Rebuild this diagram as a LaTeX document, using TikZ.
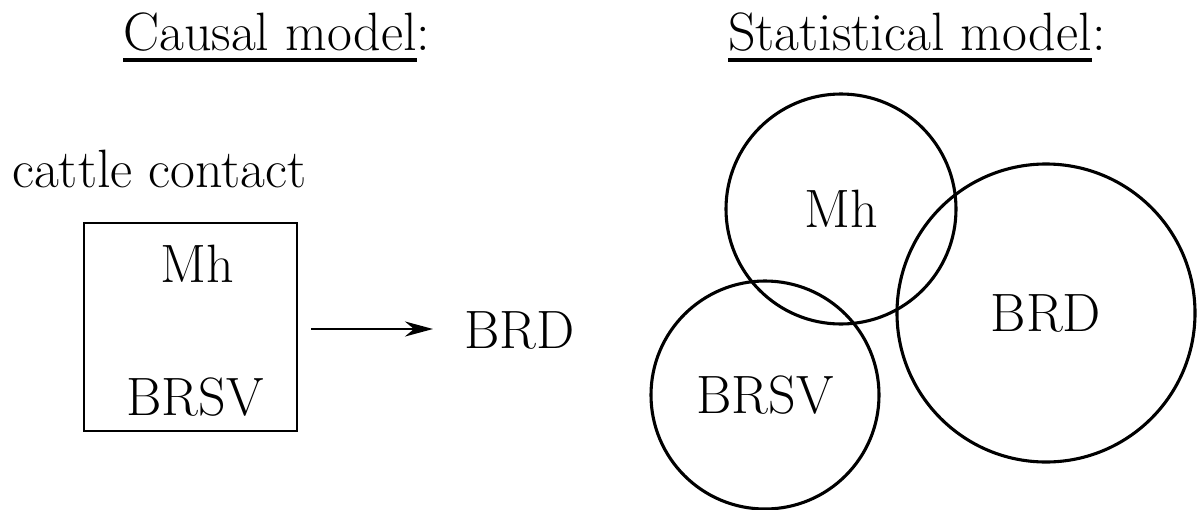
\documentclass[tikz,border=0pt]{standalone}
\usetikzlibrary{arrows.meta}
\begin{document}
\begin{tikzpicture}[x=1pt,y=-1pt,
  font=\fontsize{54}{60}\selectfont,
  txt/.style={inner sep=0pt,anchor=base},
  frame line/.style={draw,line width=2.4pt},
  venn/.style={draw,line width=3.1pt,circle,inner sep=0pt},
  ulead/.style={line width=3.4pt},
  causal arrow/.style={line width=2.8pt,-{Stealth[length=28pt,width=15pt,inset=9pt]}}]
\useasboundingbox (0,0) rectangle (1197,509);

% headings
\node[txt,anchor=base west] (h1) at (123,50) {Causal model};
\node[txt,anchor=base west] (h1c) at (h1.base east) {:};
\draw[ulead] ([yshift=-10pt]h1.base west) -- ([yshift=-10pt]h1.base east);
\node[txt,anchor=base west] (h2) at (728,50) {Statistical model};
\node[txt,anchor=base west] (h2c) at (h2.base east) {:};
\draw[ulead] ([yshift=-10pt]h2.base west) -- ([yshift=-10pt]h2.base east);

% causal model
\node[txt,anchor=base west] (cc) at (12,187) {cattle contact};
\node[frame line,rectangle,minimum width=213pt,minimum height=208pt] (box) at (190.5,327) {};
\node[txt] (mh) at (197,282) {Mh};
\node[txt] (brsv) at (195,415) {BRSV};
\node[txt,anchor=base west] (brd) at (464,348) {BRD};
\draw[causal arrow] ([xshift=13pt]box.east |- 0,329) -- ([xshift=-31pt]brd.west |- 0,329);

% statistical model
\node[venn,minimum size=230pt] (cmh) at (841,209) {Mh};
\node[venn,minimum size=228pt] (cbrsv) at (765,395) {BRSV};
\node[venn,minimum size=298pt] (cbrd) at (1046,313) {BRD};
\end{tikzpicture}
\end{document}
